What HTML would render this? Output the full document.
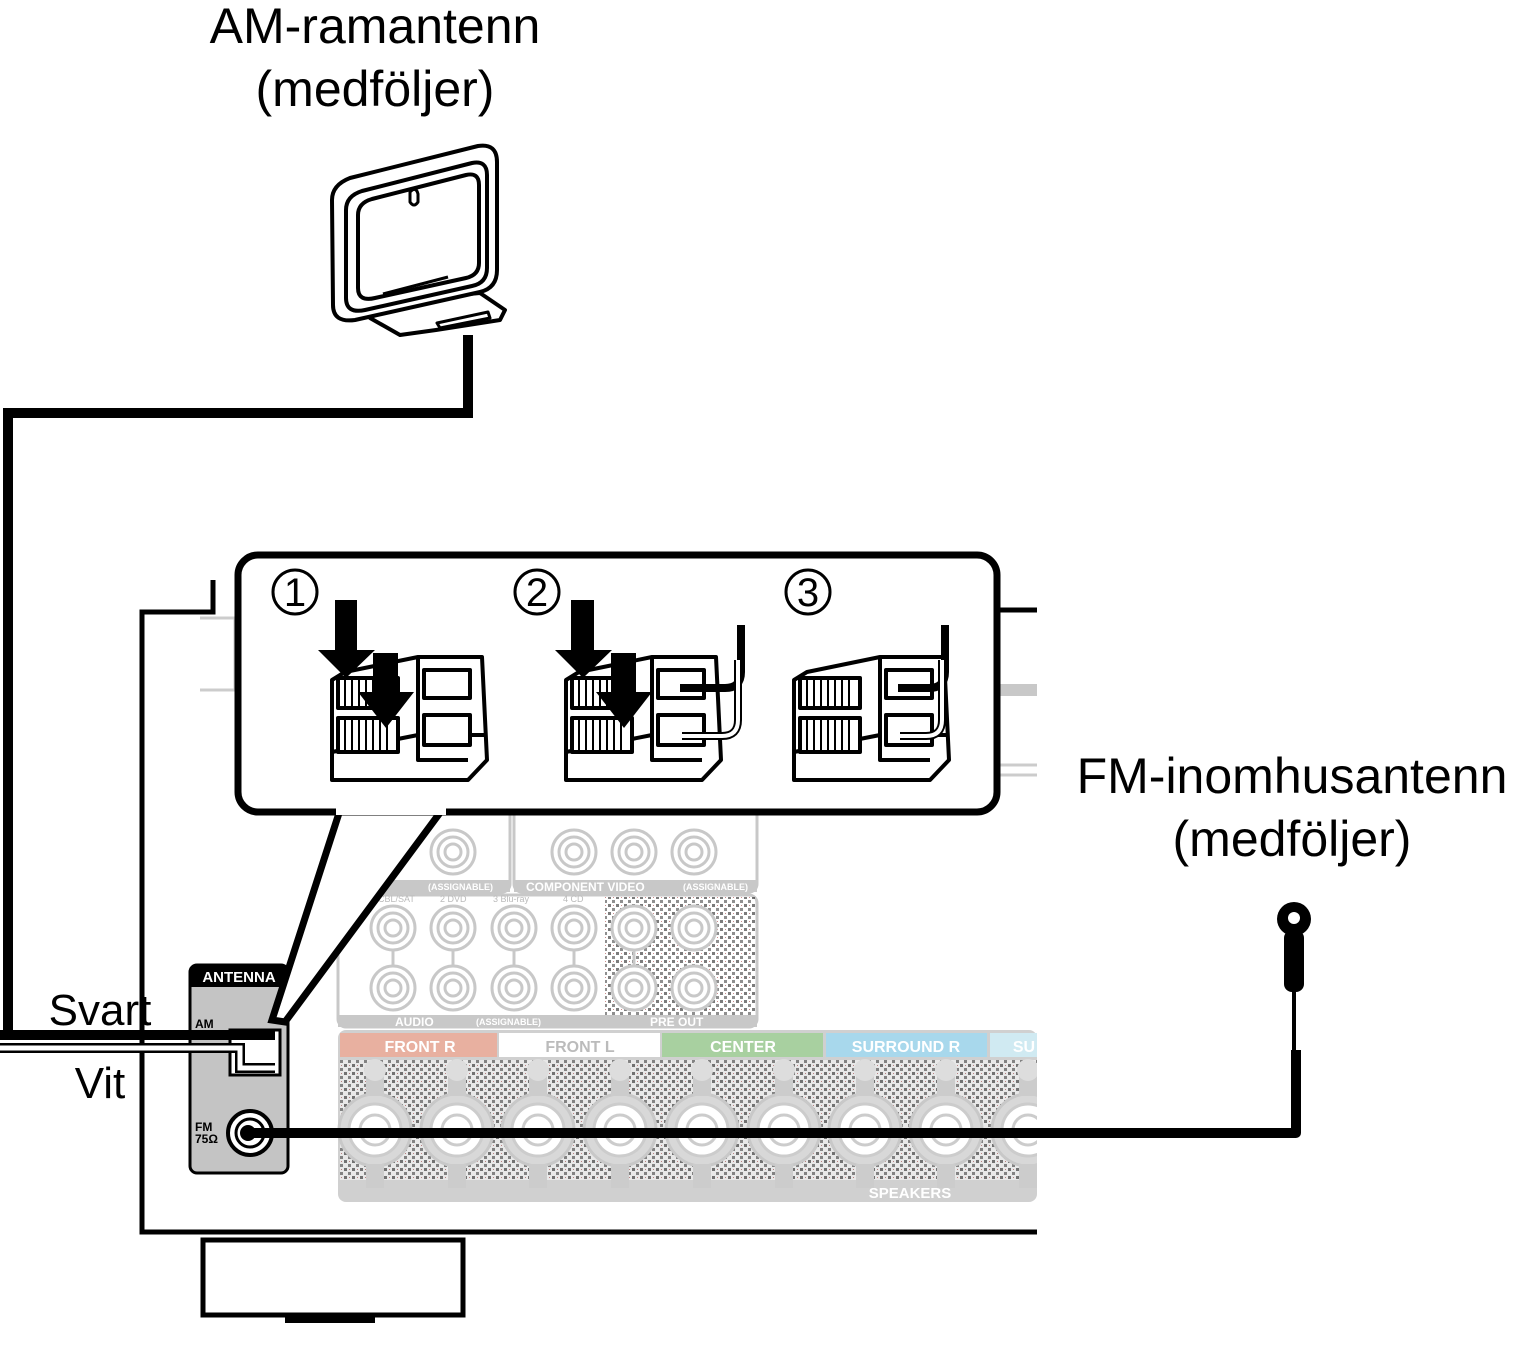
<!DOCTYPE html>
<html><head><meta charset="utf-8"><style>
html,body{margin:0;padding:0;background:#fff}
svg{display:block}
text{font-family:"Liberation Sans",sans-serif}
</style></head><body>
<svg width="1537" height="1351" viewBox="0 0 1537 1351" xmlns="http://www.w3.org/2000/svg">
<defs>
<pattern id="dots" width="8" height="8" patternUnits="userSpaceOnUse">
<rect width="8" height="8" fill="#fff"/>
<rect x="0" y="0" width="3" height="3" fill="#111"/>
<rect x="4" y="4" width="3" height="3" fill="#333"/>
<rect x="5" y="1" width="1" height="1" fill="#a03030"/>
</pattern>
<g id="rca"><circle r="22" fill="#fff" stroke="#c8c8c8" stroke-width="3"/><circle r="15" fill="none" stroke="#c8c8c8" stroke-width="3"/><circle r="8" fill="none" stroke="#c8c8c8" stroke-width="3"/></g>
<g id="spk"><circle r="36" fill="#d8d8d8" stroke="#c8c8c8" stroke-width="3"/><circle r="26" fill="#fff" stroke="#ccc" stroke-width="3"/><circle r="15" fill="none" stroke="#ccc" stroke-width="3"/><rect x="-9" y="-58" width="18" height="24" fill="#ccc"/><rect x="-9" y="34" width="18" height="24" fill="#ccc"/><circle cy="-60" r="11" fill="#ddd"/></g>
</defs>

<text x="375" y="43" font-size="50" text-anchor="middle">AM-ramantenn</text>
<text x="375" y="106" font-size="50" text-anchor="middle">(medföljer)</text>
<text x="1292" y="793" font-size="50" text-anchor="middle">FM-inomhusantenn</text>
<text x="1292" y="856" font-size="50" text-anchor="middle">(medföljer)</text>
<text x="100" y="1025" font-size="44" text-anchor="middle">Svart</text>
<text x="100" y="1098" font-size="44" text-anchor="middle">Vit</text>

<g fill="#fff" stroke="#000" stroke-width="4" stroke-linejoin="round">
<path d="M436,330 L500,320 L505,310 L480,293 L400,300 L370,318 L400,335 Z"/>
<path d="M437,323 L488,312 L490,318 L440,328 Z" stroke-width="3"/>
<path d="M332,200 Q332,185 350,178 L478,146 Q497,143 497,162 L497,270 Q497,288 480,292 L355,320 Q333,323 333,305 Z"/>
<path d="M346,210 Q346,196 362,191 L472,163 Q487,160 487,175 L487,268 Q487,283 472,286 L365,310 Q346,314 346,298 Z"/>
<path d="M358,215 Q358,203 372,199 L466,175 Q479,172 479,185 L479,263 Q479,275 466,278 L375,298 Q358,302 358,288 Z"/>
<path d="M383,294 L448,277" stroke-width="3"/>
<path d="M410,192 Q416,186 418,194 L418,202 Q414,208 410,202 Z" stroke-width="3"/>
</g>
<path d="M468,335 L468,413 L8,413 L8,1035 L238,1035" fill="none" stroke="#000" stroke-width="10"/>

<g stroke="#000" stroke-width="5" fill="none">
<path d="M213,580 L213,612 L142,612 L142,1232 L1037,1232"/>
<path d="M997,610 L1037,610"/>
</g>
<rect x="203" y="1240" width="260" height="75" fill="#fff" stroke="#000" stroke-width="5"/>
<path d="M285,1320 L375,1320" stroke="#000" stroke-width="6"/>
<path d="M200,618 L235,618 L235,690 L200,690" fill="none" stroke="#ccc" stroke-width="3"/>
<path d="M997,690 L1037,690" stroke="#c8c8c8" stroke-width="12"/>
<path d="M997,765 L1037,765 M997,775 L1037,775" stroke="#ccc" stroke-width="3"/>

<g stroke="#c8c8c8" stroke-width="3" fill="#fff">
<rect x="338" y="800" width="172" height="92" rx="8"/>
<rect x="514" y="800" width="243" height="92" rx="8"/>
</g>
<rect x="338" y="880" width="172" height="12" fill="#c8c8c8"/>
<rect x="514" y="880" width="243" height="12" fill="#c8c8c8"/>
<text x="526" y="891" font-size="12" fill="#fff" font-weight="bold">COMPONENT VIDEO</text>
<text x="428" y="890" font-size="9" fill="#fff" font-weight="bold">(ASSIGNABLE)</text>
<text x="683" y="890" font-size="9" fill="#fff" font-weight="bold">(ASSIGNABLE)</text>
<use href="#rca" x="453" y="852"/><use href="#rca" x="574" y="852"/><use href="#rca" x="634" y="852"/><use href="#rca" x="694" y="852"/>

<rect x="338" y="895" width="419" height="132" rx="8" fill="#fff" stroke="#c8c8c8" stroke-width="3"/>
<rect x="605" y="897" width="150" height="118" fill="url(#dots)" opacity="0.55"/>
<rect x="338" y="1015" width="419" height="12" fill="#c8c8c8"/>
<text x="395" y="1026" font-size="12" fill="#fff" font-weight="bold">AUDIO</text>
<text x="650" y="1026" font-size="12" fill="#fff" font-weight="bold">PRE OUT</text>
<text x="476" y="1025" font-size="9" fill="#fff" font-weight="bold">(ASSIGNABLE)</text>
<g font-size="9" fill="#bbb"><text x="378" y="902">CBL/SAT</text><text x="440" y="902">2 DVD</text><text x="493" y="902">3 Blu-ray</text><text x="563" y="902">4 CD</text></g>
<g stroke="#c8c8c8" stroke-width="3"><path d="M393,940 V975 M453,940 V975 M514,940 V975 M574,940 V975 M634,940 V975"/></g>
<use href="#rca" x="393" y="928"/><use href="#rca" x="453" y="928"/><use href="#rca" x="514" y="928"/><use href="#rca" x="574" y="928"/><use href="#rca" x="634" y="928"/><use href="#rca" x="694" y="928"/>
<use href="#rca" x="393" y="988"/><use href="#rca" x="453" y="988"/><use href="#rca" x="514" y="988"/><use href="#rca" x="574" y="988"/><use href="#rca" x="634" y="988"/><use href="#rca" x="694" y="988"/>

<rect x="338" y="1030" width="699" height="172" rx="8" fill="#d0d0d0"/>
<rect x="340" y="1033" width="157" height="24" fill="#e8b0a0"/>
<rect x="499" y="1033" width="161" height="24" fill="#fff"/>
<rect x="662" y="1033" width="161" height="24" fill="#a8d0a0"/>
<rect x="826" y="1033" width="161" height="24" fill="#a8d8ec"/>
<rect x="990" y="1033" width="47" height="24" fill="#d0eaf2"/>
<g font-size="16" font-weight="bold" fill="#fff" text-anchor="middle">
<text x="420" y="1052">FRONT R</text><text x="580" y="1052" fill="#bbb">FRONT L</text><text x="743" y="1052">CENTER</text><text x="906" y="1052">SURROUND R</text><text x="1024" y="1052">SU</text>
<text x="910" y="1198" font-size="15">SPEAKERS</text>
</g>
<rect x="340" y="1060" width="697" height="120" fill="url(#dots)" opacity="0.5"/>
<use href="#spk" x="375" y="1130"/><use href="#spk" x="457" y="1130"/><use href="#spk" x="538" y="1130"/><use href="#spk" x="620" y="1130"/><use href="#spk" x="702" y="1130"/><use href="#spk" x="784" y="1130"/><use href="#spk" x="865" y="1130"/><use href="#spk" x="946" y="1130"/><use href="#spk" x="1028" y="1130"/>
<rect x="1037" y="1025" width="30" height="210" fill="#fff"/>

<rect x="190" y="965" width="98" height="208" rx="7" fill="#c4c4c4" stroke="#000" stroke-width="3"/>
<path d="M190,987 V972 Q190,965 197,965 H281 Q288,965 288,972 V987 Z" fill="#000"/>
<text x="239" y="982" font-size="15" font-weight="bold" fill="#fff" text-anchor="middle">ANTENNA</text>
<text x="195" y="1028" font-size="12" font-weight="bold">AM</text>
<text x="195" y="1131" font-size="12" font-weight="bold">FM</text>
<text x="195" y="1143" font-size="12" font-weight="bold">75Ω</text>
<rect x="230" y="1030" width="50" height="45" fill="#fff" stroke="#000" stroke-width="3"/>
<path d="M0,1035 L275,1035" stroke="#000" stroke-width="10"/>
<path d="M0,1048 L240,1048 L240,1068 L275,1068" fill="none" stroke="#000" stroke-width="10"/>
<path d="M0,1048 L240,1048 L240,1068 L275,1068" fill="none" stroke="#fff" stroke-width="5"/>
<circle cx="250" cy="1133" r="22" fill="#fff" stroke="#000" stroke-width="4"/>
<circle cx="250" cy="1133" r="14" fill="#fff" stroke="#000" stroke-width="3"/>
<circle cx="248" cy="1133" r="8" fill="#000"/>

<path d="M248,1133 L1296,1133 L1296,1050" fill="none" stroke="#000" stroke-width="10" stroke-linejoin="round"/>
<path d="M1294,990 L1294,1050" stroke="#000" stroke-width="4"/>
<rect x="1284" y="930" width="20" height="62" rx="8" fill="#000"/>
<circle cx="1294" cy="919" r="17" fill="#000"/>
<circle cx="1294" cy="918" r="6" fill="#fff"/>

<path d="M340,810 L272,1020 L285,1022 L442,810" fill="#fff" stroke="#000" stroke-width="7" stroke-linejoin="miter"/>
<rect x="238" y="555" width="759" height="257" rx="20" fill="#fff" stroke="#000" stroke-width="7"/>
<rect x="336" y="805" width="110" height="10" fill="#fff"/>
<g font-size="40" text-anchor="middle">
<circle cx="295" cy="592" r="22" fill="none" stroke="#000" stroke-width="3"/><text x="295" y="606">1</text>
<circle cx="537" cy="592" r="22" fill="none" stroke="#000" stroke-width="3"/><text x="537" y="606">2</text>
<circle cx="808" cy="592" r="22" fill="none" stroke="#000" stroke-width="3"/><text x="808" y="606">3</text>
</g>
<g id="tb" stroke="#000" stroke-width="4" fill="#fff" stroke-linejoin="round">
<path d="M332,680 L345,672 L418,657 L482,657 L487,760 L468,780 L332,780 Z"/>
<path d="M332,752 L418,735 L487,735"/>
<path d="M418,657 L418,760 L468,760"/>
<rect x="338" y="678" width="60" height="30" fill="#fff"/>
<rect x="338" y="718" width="60" height="34" fill="#fff"/>
<path d="M345,680 V706 M352,680 V706 M359,680 V706 M366,680 V706 M373,680 V706 M380,680 V706 M387,680 V706 M345,720 V750 M352,720 V750 M359,720 V750 M366,720 V750 M373,720 V750 M380,720 V750 M387,720 V750" stroke-width="2"/>
<rect x="424" y="670" width="46" height="28"/>
<rect x="424" y="715" width="46" height="30"/>
</g>
<use href="#tb" x="234"/>
<use href="#tb" x="462"/>
<g fill="#000">
<path d="M335,600 H357 V650 H375 L346,678 L318,650 H335 Z"/>
<path d="M373,653 H398 V692 H414 L386,728 L358,692 H373 Z"/>
<path d="M571,600 H594 V650 H612 L583,678 L555,650 H571 Z"/>
<path d="M611,653 H636 V692 H652 L624,728 L596,692 H611 Z"/>
</g>
<path d="M741,625 V672 Q741,688 725,688 H680" fill="none" stroke="#000" stroke-width="8"/>
<path d="M738,660 V720 Q738,736 722,736 H682" fill="none" stroke="#000" stroke-width="8"/>
<path d="M738,660 V720 Q738,736 722,736 H682" fill="none" stroke="#fff" stroke-width="4"/>
<path d="M945,625 V672 Q945,688 929,688 H898" fill="none" stroke="#000" stroke-width="8"/>
<path d="M942,660 V720 Q942,736 926,736 H900" fill="none" stroke="#000" stroke-width="8"/>
<path d="M942,660 V720 Q942,736 926,736 H900" fill="none" stroke="#fff" stroke-width="4"/>
</svg>
</body></html>
